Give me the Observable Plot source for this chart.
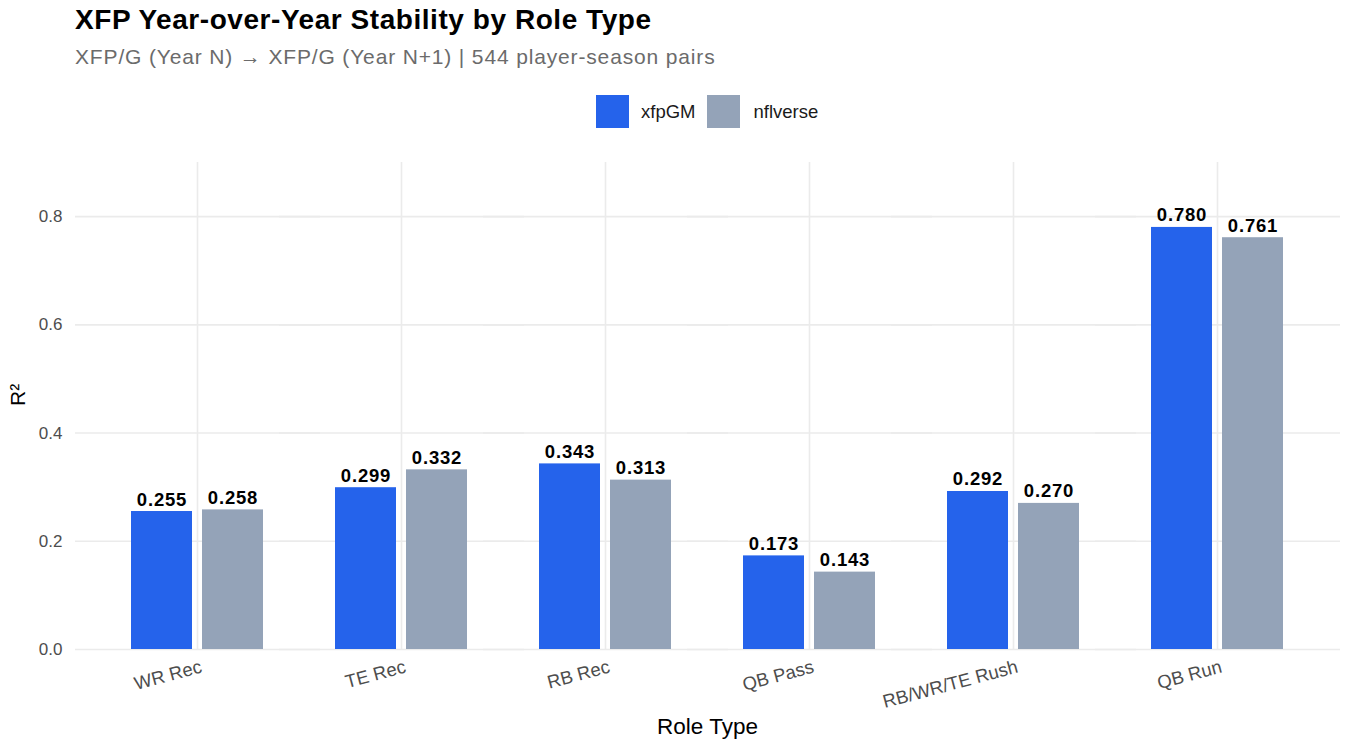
<!DOCTYPE html>
<html><head><meta charset="utf-8">
<script src="https://cdn.jsdelivr.net/npm/d3@7"></script>
<script src="https://cdn.jsdelivr.net/npm/@observablehq/plot@0.6"></script>
<style>
body{margin:0;background:#fff;font-family:"Liberation Sans",Arial,sans-serif;}
#wrap{position:relative;width:1350px;height:750px;overflow:hidden;}
.title{position:absolute;left:75px;top:4px;font-size:28px;letter-spacing:0.55px;font-weight:bold;color:#000;white-space:nowrap;}
.sub{position:absolute;left:75px;top:45px;font-size:21px;letter-spacing:0.85px;color:#6b6b6b;white-space:nowrap;}
.legend{position:absolute;top:95px;left:596px;display:flex;align-items:center;font-size:18.5px;color:#1a1a1a;}
.sw{width:33px;height:33px;display:inline-block;}
#chart{position:absolute;left:0;top:140px;}
.vlab{letter-spacing:0.8px;}
</style></head>
<body><div id="wrap">
<div class="title">XFP Year-over-Year Stability by Role Type</div>
<div class="sub">XFP/G (Year N) → XFP/G (Year N+1) | 544 player-season pairs</div>
<div class="legend" id="legend"></div>
<div id="chart"></div>
</div>
<script>
const roles = ["WR Rec","TE Rec","RB Rec","QB Pass","RB/WR/TE Rush","QB Run"];
const xfpGM = [0.255,0.299,0.343,0.173,0.292,0.780];
const nflverse = [0.258,0.332,0.313,0.143,0.270,0.761];
const sources = ["xfpGM","nflverse"];
const colors = ["#2563EB","#94A3B8"];
const yTicks = [0,0.2,0.4,0.6,0.8];

const data = roles.flatMap((r,i)=>[
  {role:r, source:"xfpGM", value:xfpGM[i]},
  {role:r, source:"nflverse", value:nflverse[i]}
]);

// legend
const lg = document.getElementById("legend");
sources.forEach((s,i)=>{
  const sw = document.createElement("span"); sw.className="sw"; sw.style.background=colors[i];
  const t = document.createElement("span"); t.textContent=s; t.style.margin = i===0 ? "0 12px 0 12px" : "0 0 0 13px";
  lg.appendChild(sw); lg.appendChild(t);
});

const fmt = d3.format(".3f");
const chart = Plot.plot({
  width:1350, height:610,
  marginLeft:95, marginRight:31, marginTop:22, marginBottom:101,
  style:{fontFamily:"Liberation Sans, Arial, sans-serif", background:"#fff", overflow:"visible"},
  fx:{domain:roles, padding:0, axis:null},
  x:{domain:sources, paddingInner:0.14, paddingOuter:0.4965, axis:null},
  y:{domain:[0,0.9], axis:null},
  color:{domain:sources, range:colors},
  marks:[
    Plot.gridFx({stroke:"#ebebeb", strokeOpacity:1, strokeWidth:1.6}),
    Plot.ruleY(yTicks, {stroke:"#ebebeb", strokeWidth:1.6, insetLeft:-20, insetRight:-21}),
    Plot.barY(data, {fx:"role", x:"source", y:"value", fill:"source"}),
    Plot.text(data, {fx:"role", x:"source", y:"value", text:d=>fmt(d.value), lineAnchor:"bottom", dy:-6, fontWeight:"bold", fontSize:18.5, fill:"#000", className:"vlab"}),
    Plot.axisFx({anchor:"bottom", tickSize:0, tickRotate:-15, textAnchor:"end", lineAnchor:"top", tickPadding:10, dx:2, fontSize:18.5, fill:"#4d4d4d", label:null}),
    Plot.axisY(yTicks, {tickSize:0, tickPadding:33, tickFormat:d3.format(".1f"), fontSize:17, fill:"#4d4d4d", label:null}),
    Plot.text(["Role Type"], {facet:"super", frameAnchor:"bottom", dx:0, dy:84, fontSize:22.5, fill:"#000"}),
    Plot.text(["R²"], {facet:"super", frameAnchor:"left", dx:-77, rotate:-90, fontSize:21, fill:"#000"})
  ]
});
document.getElementById("chart").appendChild(chart);
</script>
</body></html>
